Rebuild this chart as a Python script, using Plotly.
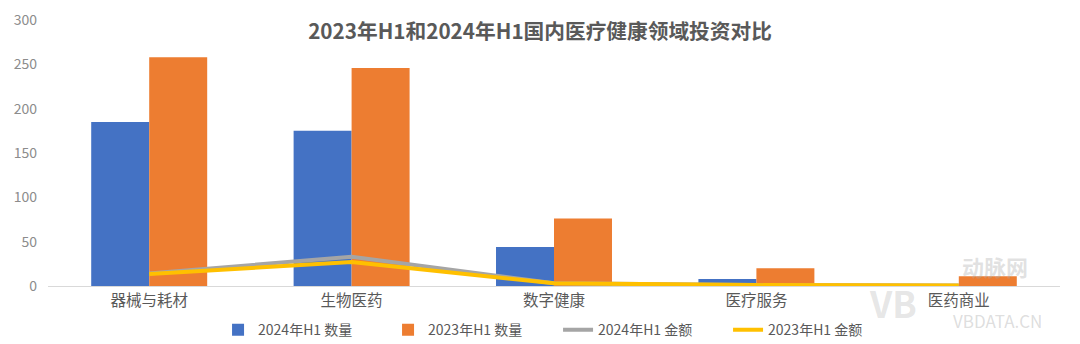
import plotly.graph_objects as go

# 细分领域
categories = ["器械与耗材", "生物医药", "数字健康", "医疗服务", "医药商业"]

# 投资事件数量
count_2024h1 = [185, 175, 44, 8, 1]
count_2023h1 = [258, 246, 76, 20, 11]

# 投资金额
amount_2024h1 = [14, 33, 3, 1, 0.5]
amount_2023h1 = [13.5, 27, 3, 1, 0.5]

y_ticks = [0, 50, 100, 150, 200, 250, 300]

FONT = "Noto Sans CJK SC, Microsoft YaHei, sans-serif"
TEXT_GRAY = "#595959"

fig = go.Figure()
fig.add_trace(go.Bar(x=categories, y=count_2024h1, name="2024年H1 数量",
                     marker=dict(color="#4472C4", line=dict(width=0))))
fig.add_trace(go.Bar(x=categories, y=count_2023h1, name="2023年H1 数量",
                     marker=dict(color="#ED7D31", line=dict(width=0))))
fig.add_trace(go.Scatter(x=categories, y=amount_2024h1, name="2024年H1 金额",
                         mode="lines", line=dict(color="#A5A5A5", width=4)))
fig.add_trace(go.Scatter(x=categories, y=amount_2023h1, name="2023年H1 金额",
                         mode="lines", line=dict(color="#FFC000", width=4)))

fig.update_layout(
    width=1080, height=344,
    margin=dict(l=48, r=20, t=20, b=58, autoexpand=False),
    paper_bgcolor="white", plot_bgcolor="white",
    barmode="group", bargap=0.427, bargroupgap=0,
    font=dict(family=FONT, color=TEXT_GRAY, size=14),
    title=dict(text="<b>2023年H1和2024年H1国内医疗健康领域投资对比</b>",
               x=0.5, xanchor="center", y=0.907, yanchor="middle",
               font=dict(size=20.7, color=TEXT_GRAY, family=FONT)),
    legend=dict(orientation="h", x=0.504, xanchor="center",
                yref="container", y=0.04, yanchor="middle",
                font=dict(size=14, color=TEXT_GRAY), traceorder="normal",
                itemwidth=30, entrywidthmode="pixels", entrywidth=125),
    showlegend=True,
)
fig.update_xaxes(showline=True, linecolor="#D9D9D9", linewidth=1, ticks="",
                 showgrid=False, tickfont=dict(size=15.5, color=TEXT_GRAY))
fig.update_yaxes(range=[0, 300], tickvals=y_ticks, showgrid=False, zeroline=False,
                 showline=False, tickfont=dict(size=14, color="#8C8C8C"), ticklen=0,
                 ticklabelstandoff=10)

# 水印
fig.add_annotation(text="<b>VB</b>", xref="paper", yref="paper", x=0.835, y=-0.06,
                   showarrow=False, font=dict(size=36, color="rgba(170,170,170,0.3)"),
                   xanchor="center", yanchor="middle")
fig.add_annotation(text="<b>动脉网</b>", xref="paper", yref="paper", x=0.936, y=0.075,
                   showarrow=False, font=dict(size=22, color="rgba(170,170,170,0.35)"),
                   xanchor="center", yanchor="middle")
fig.add_annotation(text="VBDATA.CN", xref="paper", yref="paper", x=0.938, y=-0.13,
                   showarrow=False, font=dict(size=17, color="rgba(170,170,170,0.4)"),
                   xanchor="center", yanchor="middle")

fig.write_html("out.html")
